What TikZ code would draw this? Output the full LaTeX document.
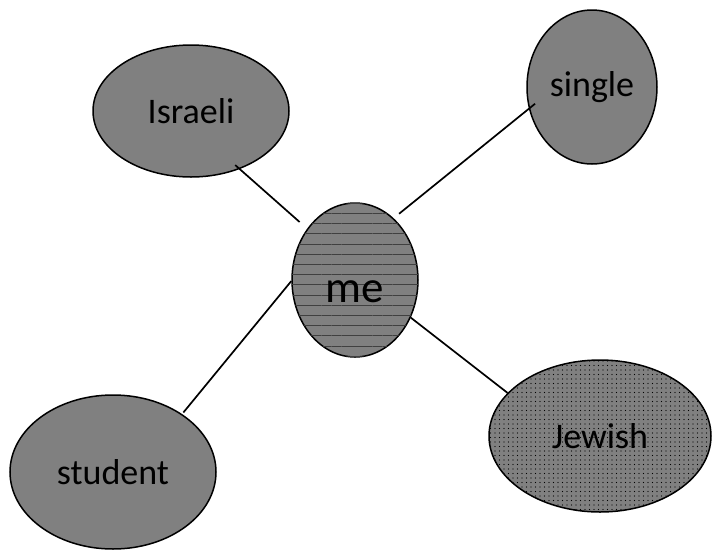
\documentclass[tikz,border=0pt]{standalone}
\usepackage{fontspec}
\setmainfont{Carlito}
\usetikzlibrary{shapes.geometric,patterns.meta}
\definecolor{bubbleGray}{RGB}{128,128,128}
\begin{document}
\begin{tikzpicture}[
    x=1pt, y=-1pt,
    bubble/.style={
        ellipse, draw=black, line width=1.5pt, fill=bubbleGray,
        inner sep=0pt, font=\fontsize{36}{40}\selectfont
    },
    meBubble/.style={bubble, font=\fontsize{45}{50}\selectfont, text height=45pt, text depth=0pt,
        postaction={pattern={Lines[distance=10.2pt, line width=0.9pt]}, pattern color=black!75}},
    dotBubble/.style={bubble,
        postaction={pattern={Dots[distance=4.5pt, radius=0.55pt]}, pattern color=black}},
    link/.style={draw=black, line width=1.7pt}
]
    \useasboundingbox (0,0) rectangle (713,550);

    % --- centre ---
    \node[meBubble, minimum width=126pt, minimum height=154pt] (me) at (355,280) {me};

    % --- surrounding bubbles ---
    \node[bubble, minimum width=196pt, minimum height=132pt] (israeli) at (191,111) {Israeli};
    \node[bubble, minimum width=130pt, minimum height=154pt] (single) at (592,87) {single};
    \node[bubble, minimum width=206pt, minimum height=154pt] (student) at (113,472) {student};
    \node[dotBubble, minimum width=222pt, minimum height=152pt] (jewish) at (600,436) {Jewish};

    % --- links ---
    \draw[link, shorten <=-6pt, shorten >=10pt] (israeli.-50) -- (me.133);
    \draw[link, shorten <=-8pt, shorten >=7pt] (single.199) -- (me.58);
    \draw[link, shorten >=2pt] (me.181) -- (student.40);
    \draw[link] (me.-34) -- (jewish.155);
\end{tikzpicture}
\end{document}
